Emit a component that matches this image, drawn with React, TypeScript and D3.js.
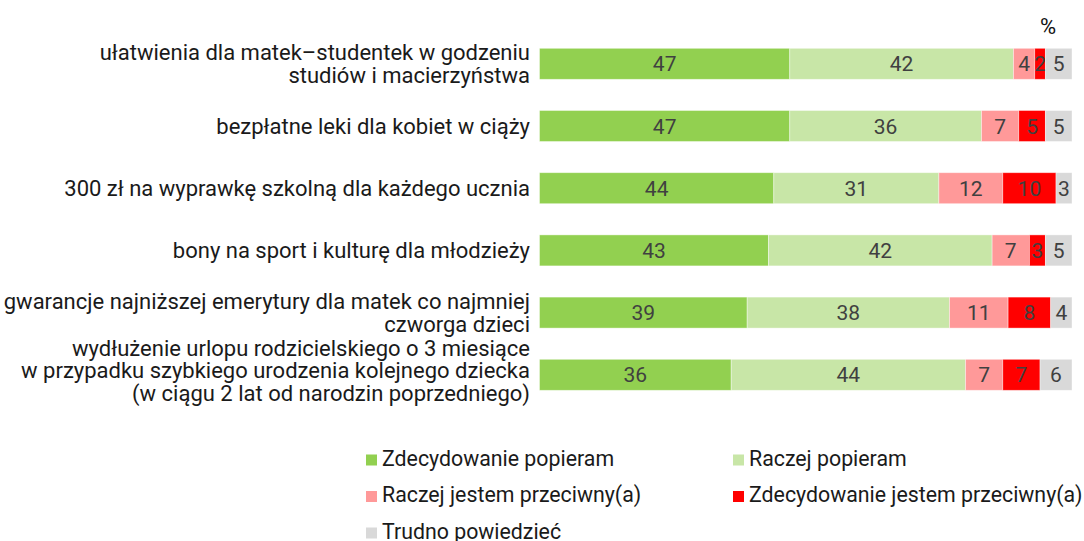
import React from "react";
import * as d3 from "d3";

const categories = [
  "ułatwienia dla matek–studentek w godzeniu\nstudiów i macierzyństwa",
  "bezpłatne leki dla kobiet w ciąży",
  "300 zł na wyprawkę szkolną dla każdego ucznia",
  "bony na sport i kulturę dla młodzieży",
  "gwarancje najniższej emerytury dla matek co najmniej\nczworga dzieci",
  "wydłużenie urlopu rodzicielskiego o 3 miesiące\nw przypadku szybkiego urodzenia kolejnego dziecka\n(w ciągu 2 lat od narodzin poprzedniego)",
];

const seriesNames = [
  "Zdecydowanie popieram",
  "Raczej popieram",
  "Raczej jestem przeciwny(a)",
  "Zdecydowanie jestem przeciwny(a)",
  "Trudno powiedzieć",
];

const strongSupport = [47, 47, 44, 43, 39, 36];
const ratherSupport = [42, 36, 31, 42, 38, 44];
const ratherOppose = [4, 7, 12, 7, 11, 7];
const strongOppose = [2, 5, 10, 3, 8, 7];
const hardToSay = [5, 5, 3, 5, 4, 6];

const colors = ["#92D050", "#C8E6A7", "#FF9999", "#FF0000", "#D9D9D9"];

const W = 1084;
const H = 541;
const FONT = "Roboto, 'Noto Sans', sans-serif";

export default function App() {
  const seriesValues = [strongSupport, ratherSupport, ratherOppose, strongOppose, hardToSay];
  const rows = categories.map((c, i) => {
    const r: any = { category: c };
    seriesNames.forEach((s, j) => (r[s] = seriesValues[j][i]));
    return r;
  });
  const stack = d3.stack<any>().keys(seriesNames);
  const stacked = stack(rows);

  const x = d3.scaleLinear().domain([0, 100]).range([539.5, 1072]);
  const y = d3.scalePoint<string>().domain(categories).range([63.8, 374.8]);
  const barH = 31;
  const lineH = 22.5;
  const labelRight = 530;
  const bottomLimit = 393;

  const legendCols = [366, 733];
  const legendRows = [460, 496.5, 533];

  return (
    <svg
      width={W}
      height={H}
      style={{ position: "absolute", left: 0, top: 0, background: "#fff" }}
      fontFamily={FONT}
    >
      <rect x={0} y={0} width={W} height={H} fill="#fff" />
      {/* category labels */}
      {categories.map((c) => {
        const lines = c.split("\n");
        const cy = y(c)!;
        let first = cy - ((lines.length - 1) * lineH) / 2;
        const last = first + (lines.length - 1) * lineH;
        if (last > bottomLimit) first -= last - bottomLimit;
        return (
          <text
            key={c}
            x={labelRight}
            textAnchor="end"
            fontSize={22}
            fill="#1a1a1a"
          >
            {lines.map((l, k) => (
              <tspan key={k} x={labelRight} y={first + k * lineH} dy="0.35em">
                {l}
              </tspan>
            ))}
          </text>
        );
      })}
      {/* bars */}
      {stacked.map((s, si) => (
        <g key={s.key}>
          {s.map((d, i) => {
            const cy = y(categories[i])!;
            const x0 = x(d[0]);
            const x1 = x(d[1]);
            return (
              <g key={i}>
                <rect
                  x={x0}
                  y={cy - barH / 2}
                  width={x1 - x0}
                  height={barH}
                  fill={colors[si]}
                  stroke="#fff"
                  strokeWidth={0.8}
                  strokeOpacity={0.5}
                />
                <text
                  x={(x0 + x1) / 2}
                  y={cy}
                  dy="0.36em"
                  textAnchor="middle"
                  fontSize={21}
                  fill="#404040"
                >
                  {d[1] - d[0]}
                </text>
              </g>
            );
          })}
        </g>
      ))}
      <text x={1048} y={34} textAnchor="middle" fontSize={22} fill="#111">
        %
      </text>
      {/* legend */}
      {seriesNames.map((s, i) => {
        const cx = legendCols[i % 2];
        const cy = legendRows[Math.floor(i / 2)];
        return (
          <g key={s}>
            <rect x={cx} y={cy - 5.5} width={11} height={11} fill={colors[i]} />
            <text
              transform={`translate(${cx + 16},${cy + 5.7}) scale(0.97,1)`}
              fontSize={22}
              fill="#1a1a1a"
            >
              {s}
            </text>
          </g>
        );
      })}
    </svg>
  );
}
